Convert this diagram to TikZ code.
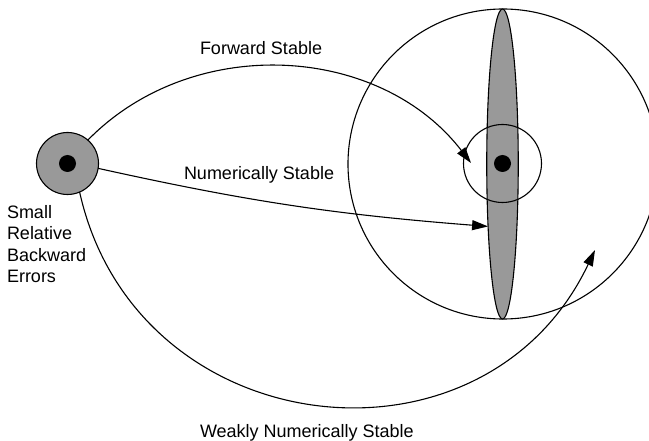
\documentclass[tikz,border=0pt]{standalone}
\usepackage{fontspec}
\setmainfont{Liberation Sans}
\usetikzlibrary{shapes.geometric,arrows.meta}
\definecolor{discgray}{HTML}{999999}

\begin{document}
\begin{tikzpicture}[x=1pt,y=-1pt,
  line width=1.1pt,
  every node/.style={inner sep=0pt, outer sep=0pt},
  disc/.style={circle, draw, fill=discgray, minimum size=62pt},
  dot/.style={circle, fill=black, minimum size=17pt},
  ring/.style={circle, draw},
  lbl/.style={font=\fontsize{18}{21.5}\selectfont, anchor=base west},
  arr/.style={-{Triangle[length=16pt,width=10pt]}}
]
\clip (0,0) rectangle (649,441);
\node[ring, minimum size=310pt] (outer) at (503,164) {};
\node[ellipse, draw, fill=discgray, minimum width=31.5pt, minimum height=310pt] (ell) at (502.5,164) {};
\node[ring, minimum size=78pt] (inner) at (502.5,163.5) {};
\node[dot] (ctr) at (inner) {};
\node[disc] (src) at (67.5,163.5) {};
\node[dot] (srcdot) at (src) {};
\coordinate (ftip) at (471,163);
\coordinate (wtip) at (595,250);
\draw[arr] (src.49) to[bend left=49] (ftip);
\draw[arr] (src.-9) to[bend right=4] (ell.257);
\draw[arr] (src.-67) to[bend right=71, looseness=1.28] (wtip);
\node[lbl] (fwd) at (200,55) {Forward Stable};
\node[lbl] (num) at (184,180) {Numerically Stable};
\node[lbl] (weak) at (200,437) {Weakly Numerically Stable};
\node[lbl, align=left] (small) at (7,283) {Small\\Relative\\Backward\\Errors};
\end{tikzpicture}
\end{document}
